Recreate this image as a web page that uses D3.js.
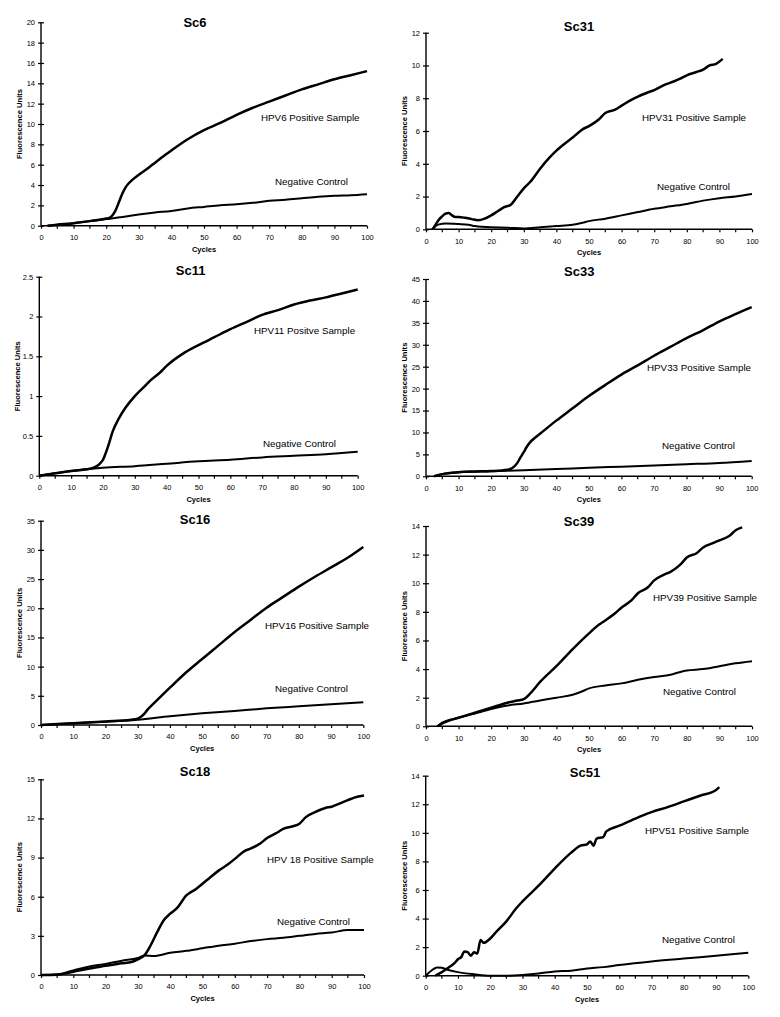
<!DOCTYPE html>
<html><head><meta charset="utf-8">
<script src="https://cdn.jsdelivr.net/npm/d3@7"></script>
<style>
html,body{margin:0;padding:0;background:#fff;}
text{font-family:"Liberation Sans",Arial,sans-serif;fill:#000;}
</style></head>
<body><svg id="c" width="780" height="1017"></svg>
<script>
// ---------- DATA ----------
const titles = ["Sc6","Sc31","Sc11","Sc33","Sc16","Sc39","Sc18","Sc51"];
const positiveLabels = ["HPV6 Positive Sample","HPV31 Positive Sample","HPV11 Positve Sample","HPV33 Positive Sample","HPV16 Positive Sample","HPV39 Positive Sample","HPV 18 Positive Sample","HPV51 Positive Sample"];
const negativeLabel = "Negative Control";
const yMax = [20,12,2.5,45,35,14,15,14];
const yStep = [2,2,0.5,5,5,2,3,2];
const xTicks = [0,10,20,30,40,50,60,70,80,90,100];
const xMinorTicks = [5,15,25,35,45,55,65,75,85,95];

const sc6Pos = [[2,0],[5,0.1],[10,0.25],[15,0.45],[20,0.7],[21,0.78],[22,1.05],[23,1.6],[24,2.4],[25,3.2],[26,3.8],[27,4.2],[28,4.5],[30,5.0],[33,5.7],[35,6.2],[37,6.7],[40,7.4],[45,8.5],[50,9.4],[55,10.1],[60,10.9],[65,11.6],[70,12.2],[75,12.8],[80,13.4],[85,13.9],[90,14.4],[95,14.8],[100,15.2]];
const sc6Neg = [[2,0],[5,0.1],[10,0.25],[15,0.45],[20,0.65],[25,0.85],[30,1.1],[35,1.3],[40,1.45],[45,1.7],[50,1.85],[55,2.0],[60,2.1],[65,2.25],[70,2.45],[75,2.55],[80,2.7],[85,2.85],[90,2.95],[95,3.0],[100,3.1]];
const sc31Pos = [[2,0],[3,0.3],[4,0.6],[5,0.8],[6,0.95],[7,1.0],[8,0.85],[9,0.75],[10,0.75],[12,0.7],[14,0.62],[16,0.55],[18,0.65],[20,0.85],[22,1.1],[24,1.35],[26,1.5],[28,2.0],[30,2.5],[32,2.9],[35,3.7],[38,4.4],[40,4.8],[43,5.3],[45,5.6],[48,6.1],[50,6.3],[53,6.7],[55,7.1],[58,7.3],[60,7.55],[63,7.9],[65,8.1],[68,8.35],[70,8.5],[73,8.8],[75,8.95],[78,9.2],[80,9.4],[83,9.6],[85,9.75],[87,10.0],[89,10.1],[91,10.4]];
const sc31Neg = [[2,0],[3,0.2],[4,0.3],[6,0.35],[10,0.32],[13,0.28],[15,0.2],[20,0.12],[25,0.1],[30,0.05],[35,0.12],[40,0.2],[45,0.28],[48,0.4],[50,0.5],[55,0.65],[60,0.85],[65,1.05],[70,1.25],[75,1.4],[80,1.55],[85,1.75],[90,1.9],[95,2.0],[100,2.15]];
const sc11Pos = [[0,0],[5,0.03],[10,0.06],[15,0.08],[17,0.1],[19,0.15],[20,0.2],[21,0.3],[22,0.42],[23,0.55],[25,0.72],[27,0.85],[30,1.0],[33,1.12],[35,1.2],[38,1.3],[40,1.38],[45,1.53],[50,1.64],[55,1.74],[60,1.84],[65,1.93],[70,2.02],[75,2.08],[80,2.15],[85,2.2],[90,2.24],[95,2.29],[100,2.34]];
const sc11Neg = [[0,0],[5,0.03],[10,0.06],[20,0.1],[30,0.12],[40,0.15],[50,0.18],[60,0.2],[70,0.23],[80,0.25],[90,0.27],[100,0.3]];
const sc33Pos = [[2.5,0],[5,0.5],[8,0.8],[10,0.95],[15,1.1],[20,1.2],[25,1.5],[26.5,1.9],[28,3.0],[29,4.3],[30,5.5],[31,6.8],[32,7.8],[33,8.5],[35,9.7],[40,12.7],[45,15.5],[50,18.3],[55,20.8],[60,23.2],[65,25.3],[70,27.5],[75,29.5],[80,31.5],[85,33.3],[90,35.3],[95,37],[100,38.6]];
const sc33Neg = [[2.5,0],[5,0.5],[10,0.9],[20,1.15],[30,1.4],[40,1.65],[50,1.95],[60,2.2],[70,2.45],[80,2.75],[90,3.05],[100,3.5]];
const sc16Pos = [[0,0],[10,0.3],[20,0.6],[28,0.9],[30,1.1],[31,1.4],[32,1.9],[33,2.6],[35,3.7],[40,6.4],[45,9.0],[50,11.3],[55,13.6],[60,15.9],[65,18.0],[70,20.1],[75,21.9],[80,23.7],[85,25.4],[90,27.0],[95,28.6],[100,30.5]];
const sc16Neg = [[0,0],[10,0.3],[20,0.55],[30,0.9],[40,1.5],[50,2.0],[60,2.4],[70,2.85],[80,3.2],[90,3.55],[100,3.9]];
const sc39Pos = [[3.5,0],[5,0.2],[10,0.6],[15,0.95],[20,1.3],[25,1.65],[28,1.8],[30,1.9],[32,2.3],[35,3.1],[40,4.2],[45,5.4],[50,6.5],[53,7.1],[55,7.4],[58,7.9],[60,8.3],[63,8.8],[65,9.3],[68,9.7],[70,10.2],[73,10.6],[75,10.8],[78,11.3],[80,11.8],[83,12.1],[85,12.5],[88,12.8],[90,13.0],[93,13.3],[95,13.7],[97,13.9]];
const sc39Neg = [[3.5,0],[5,0.25],[10,0.6],[15,0.9],[20,1.2],[25,1.45],[30,1.6],[35,1.8],[40,2.0],[45,2.2],[48,2.45],[50,2.65],[55,2.85],[60,3.0],[65,3.25],[70,3.45],[75,3.6],[78,3.8],[80,3.9],[85,4.0],[90,4.2],[95,4.4],[100,4.55]];
const sc18Pos = [[0,0],[5,0.02],[10,0.25],[15,0.5],[20,0.7],[25,0.9],[28,1.0],[30,1.2],[32,1.5],[34,2.3],[36,3.3],[38,4.2],[40,4.7],[42,5.1],[45,6.1],[48,6.6],[50,7.0],[52,7.4],[55,8.0],[58,8.5],[60,8.9],[63,9.5],[65,9.7],[68,10.1],[70,10.5],[73,10.9],[75,11.2],[78,11.4],[80,11.6],[82,12.1],[85,12.5],[88,12.8],[90,12.9],[93,13.2],[95,13.4],[97,13.6],[100,13.75]];
const sc18Neg = [[0,0],[5,0.05],[10,0.35],[15,0.65],[20,0.85],[25,1.1],[30,1.3],[32,1.5],[35,1.45],[40,1.7],[45,1.85],[50,2.05],[55,2.25],[60,2.4],[65,2.6],[70,2.75],[75,2.85],[80,3.0],[85,3.15],[90,3.25],[95,3.45],[100,3.45]];
const sc51Pos = [[3,0],[5,0.25],[7,0.55],[9,0.9],[10,1.15],[11,1.3],[12,1.7],[13,1.65],[14,1.4],[15,1.65],[16,1.55],[17,2.5],[18,2.3],[20,2.6],[22,3.1],[25,3.8],[28,4.7],[30,5.2],[35,6.3],[40,7.5],[45,8.6],[48,9.1],[50,9.2],[51,9.4],[52,9.1],[53,9.6],[55,9.7],[56,10.1],[60,10.5],[65,11.0],[70,11.45],[75,11.8],[80,12.2],[85,12.6],[90,13.0],[91,13.2]];
const sc51Neg = [[0,0],[2,0.4],[3.5,0.58],[5,0.55],[7,0.4],[10,0.25],[15,0.1],[20,0.0],[25,0.0],[30,0.05],[35,0.15],[40,0.3],[45,0.35],[50,0.5],[55,0.6],[60,0.75],[70,1.0],[80,1.2],[90,1.4],[100,1.6]];

const positiveSeries = [sc6Pos,sc31Pos,sc11Pos,sc33Pos,sc16Pos,sc39Pos,sc18Pos,sc51Pos];
const negativeSeries = [sc6Neg,sc31Neg,sc11Neg,sc33Neg,sc16Neg,sc39Neg,sc18Neg,sc51Neg];

// ---------- LAYOUT ----------
const layout = [
  {x0:41,  x1:367,   yT:22.3,  yB:225.7, tx:195,   ty:22,    px:261, py:117, nx:275, ny:181},
  {x0:426, x1:752,   yT:32.7,  yB:229.3, tx:579,   ty:26,    px:642, py:117, nx:657, ny:186},
  {x0:39.3,x1:357.7, yT:276.7, yB:475.7, tx:190.7, ty:270.7, px:254, py:330, nx:263, ny:443},
  {x0:426, x1:751.7, yT:279,   yB:476.3, tx:579.3, ty:271.7, px:647, py:367, nx:662, ny:445},
  {x0:41,  x1:363.3, yT:520.7, yB:725,   tx:195,   ty:519,   px:265, py:625, nx:275, ny:688},
  {x0:426, x1:752,   yT:526,   yB:726.3, tx:579,   ty:521.7, px:653, py:597, nx:663, ny:691},
  {x0:41,  x1:364,   yT:779.3, yB:975,   tx:195,   ty:771.7, px:267, py:859, nx:277, ny:921},
  {x0:425.7,x1:748.3,yT:775.7, yB:975.7, tx:585,   ty:772.3, px:645, py:830, nx:662, ny:939}
];

const svg = d3.select("#c");

layout.forEach((L,i)=>{
  const g = svg.append("g");
  const x = d3.scaleLinear().domain([0,100]).range([L.x0,L.x1]);
  const y = d3.scaleLinear().domain([0,yMax[i]]).range([L.yB,L.yT]);
  const yt = d3.range(0, yMax[i]+yStep[i]/2, yStep[i]);

  // y axis
  const ya = g.append("g").attr("transform",`translate(${L.x0},0)`)
    .call(d3.axisLeft(y).tickValues(yt).tickSize(3).tickPadding(3).tickFormat(d=>d3.format("~g")(+d.toFixed(2))));
  ya.select(".domain").attr("stroke","#000").attr("stroke-width",1.4).attr("d",`M0,${L.yT}V${L.yB}`);
  ya.selectAll(".tick line").attr("x1",3).attr("x2",-3).attr("stroke","#000").attr("stroke-width",1.2);
  ya.selectAll(".tick text").attr("font-size","7.5px").attr("font-family","Liberation Sans, Arial, sans-serif");

  // x axis
  const xa = g.append("g").attr("transform",`translate(0,${L.yB})`)
    .call(d3.axisBottom(x).tickValues(xTicks).tickSize(3).tickPadding(6).tickFormat(d3.format("d")));
  xa.select(".domain").attr("stroke","#000").attr("stroke-width",1.4).attr("d",`M${L.x0},0H${L.x1}`);
  xa.selectAll(".tick line").attr("stroke","#000").attr("stroke-width",1.2);
  xa.selectAll(".tick text").attr("font-size","7.5px").attr("font-family","Liberation Sans, Arial, sans-serif");
  xa.selectAll(".minor").data(xMinorTicks).enter().append("line")
    .attr("x1",d=>x(d)).attr("x2",d=>x(d)).attr("y1",0).attr("y2",3)
    .attr("stroke","#000").attr("stroke-width",1.2);

  // axis titles
  g.append("text").attr("x",(L.x0+L.x1)/2).attr("y",L.yB+26)
    .attr("text-anchor","middle").attr("font-size","7.5px").attr("font-weight","bold").text("Cycles");
  g.append("text").attr("transform",`translate(${L.x0-19},${(L.yT+L.yB)/2}) rotate(-90)`)
    .attr("text-anchor","middle").attr("font-size","7.6px").attr("font-weight","bold").text("Fluorescence Units");

  // title
  g.append("text").attr("x",L.tx).attr("y",L.ty+4.7).attr("text-anchor","middle")
    .attr("font-size","13px").attr("font-weight","bold").text(titles[i]);

  // lines
  const line = d3.line().x(d=>x(d[0])).y(d=>y(d[1])).curve(d3.curveMonotoneX);
  g.append("path").datum(negativeSeries[i]).attr("d",line).attr("fill","none")
    .attr("stroke","#000").attr("stroke-width",2).attr("stroke-linejoin","round");
  g.append("path").datum(positiveSeries[i]).attr("d",line).attr("fill","none")
    .attr("stroke","#000").attr("stroke-width",2.5).attr("stroke-linejoin","round");

  // annotations
  g.append("text").attr("x",L.px).attr("y",L.py+3.5).attr("font-size","9.8px").text(positiveLabels[i]);
  g.append("text").attr("x",L.nx).attr("y",L.ny+3.5).attr("font-size","9.8px").text(negativeLabel);
});
</script>
</body></html>
